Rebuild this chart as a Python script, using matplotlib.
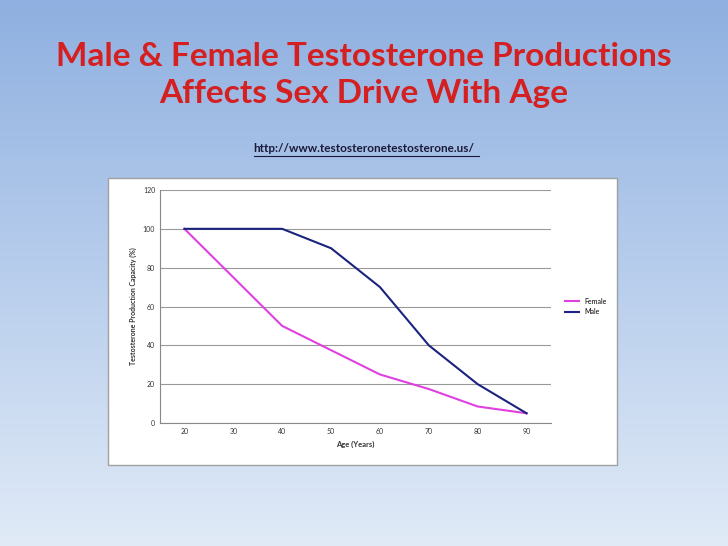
import matplotlib
matplotlib.use('Agg')
import matplotlib.pyplot as plt
from matplotlib.patches import Rectangle
import numpy as np

ages = [20, 30, 40, 50, 60, 70, 80, 90]
female = [100, 75, 50, 37.5, 25, 17.5, 8.5, 5]
male = [100, 100, 100, 90, 70, 40, 20, 5]

W, H = 728, 546
fig = plt.figure(figsize=(W / 100, H / 100), dpi=100)
plt.rcParams['font.family'] = ['Lato', 'DejaVu Sans']

# slide background gradient
bg = fig.add_axes([0, 0, 1, 1])
grad = np.linspace(0, 1, 256).reshape(-1, 1)
top = np.array([0.56, 0.69, 0.88])
bot = np.array([0.88, 0.92, 0.97])
img = top + (bot - top) * grad[:, :, None]
bg.imshow(img, aspect='auto', extent=[0, 1, 0, 1])
bg.set_xlim(0, 1)
bg.set_ylim(0, 1)
bg.axis('off')

bg.text(0.5, 1 - 75 / H, 'Male & Female Testosterone Productions\nAffects Sex Drive With Age',
        ha='center', va='center', fontsize=24, fontweight='bold', color='#d42020',
        linespacing=1.35)
bg.text(0.5, 1 - 149 / H, 'http://www.testosteronetestosterone.us/',
        ha='center', va='center', fontsize=8.5, fontweight='bold', color='#1a1a3a')
bg.plot([254 / W, 479 / W], [1 - 156 / H] * 2, color='#1a1a3a', lw=0.8)

# chart box
bg.add_patch(Rectangle((108 / W, 1 - 465 / H), 509 / W, 287 / H,
                       facecolor='white', edgecolor='#a0a0a0', lw=1))

ax = fig.add_axes([160 / W, 1 - 423 / H, 391 / W, 233 / H])
ax.plot(ages, female, color='#e040e0', lw=1.5, label='Female')
ax.plot(ages, male, color='#1a237e', lw=1.5, label='Male')
ax.set_xlim(15, 95)
ax.set_ylim(0, 120)
ax.set_xticks(ages)
ax.set_yticks(range(0, 121, 20))
ax.tick_params(labelsize=5, length=0, colors='#333333')
ax.yaxis.grid(True, color='#999999', lw=0.8)
for s in ['top', 'right']:
    ax.spines[s].set_visible(False)
ax.spines['left'].set_color('#888888')
ax.spines['bottom'].set_color('#888888')
ax.set_xlabel('Age (Years)', fontsize=5.5, fontweight='bold', color='#333333')
ax.set_ylabel('Testosterone Production Capacity (%)', fontsize=5, fontweight='bold', color='#333333')
ax.legend(loc='center left', bbox_to_anchor=(1.02, 0.5), frameon=False, fontsize=5,
          handlelength=2)

fig.savefig('out.png', dpi=100)
